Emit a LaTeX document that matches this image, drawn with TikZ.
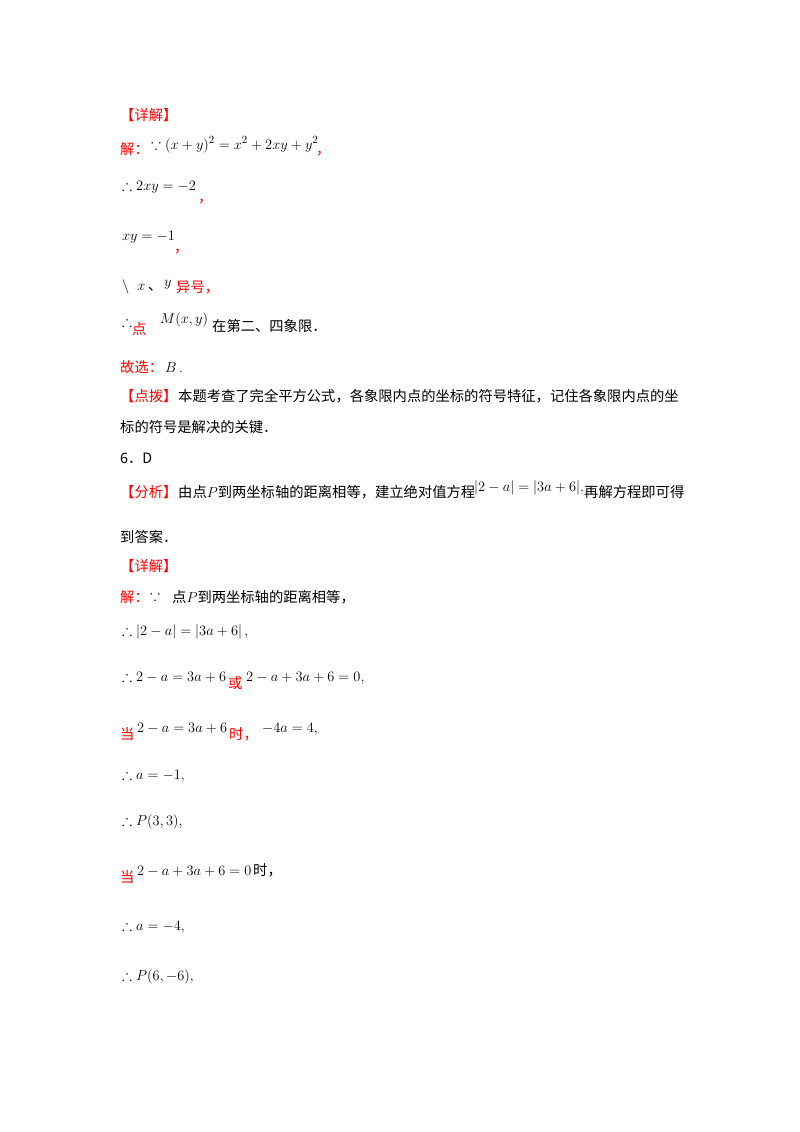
\documentclass[tikz,border=0pt]{standalone}
\usepackage{amssymb}
\usepackage{fontspec}
\newfontfamily\cjk{Noto Sans CJK SC}
\definecolor{rd}{RGB}{255,0,0}
\begin{document}
\begin{tikzpicture}[x=1pt,y=-1pt,
  t/.style={anchor=base west,inner sep=0pt,font=\cjk\fontsize{14.3}{16}\selectfont},
  r/.style={t,text=rd},
  m/.style={anchor=base west,inner sep=0pt,font=\fontsize{15}{18}\selectfont}]
\useasboundingbox (0,0) rectangle (800,1132);
\node[r] (a1) at (120,120) {【详解】};
\node[r] (a2) at (120,154) {解：};
\node[m] (a3) at (151,149) {$\because(x+y)^2=x^2+2xy+y^2$};
\node[r] (a4) at (316,154) {，};
\node[m] (b1) at (122,190) {$\therefore 2xy=-2$};
\node[r] (b2) at (198,202) {，};
\node[m] (c1) at (122,240) {$xy=-1$};
\node[r] (c2) at (174,252) {，};
\node[m] (d1) at (122,290) {$\backslash\;\; x$};
\node[t] (d2) at (148,290) {、};
\node[m] (d3) at (164,286) {$y$};
\node[r] (d4) at (176,292) {异号，};
\node[m] (e1) at (122,326) {$\therefore$};
\node[r] (e2) at (132,334) {点};
\node[m] (e3) at (160,323) {$M(x,y)$};
\node[t] (e4) at (212,331) {在第二、四象限．};
\node[r] (f1) at (120,372) {故选：};
\node[m] (f2) at (165,372) {$B$\,.};
\node[r] (g1) at (120,401) {【点拨】};
\node[t] (g2) at (178,401) {本题考查了完全平方公式，各象限内点的坐标的符号特征，记住各象限内点的坐};
\node[t] (g3) at (120,432) {标的符号是解决的关键．};
\node[t] (h1) at (120,463) {6．D};
\node[r] (i1) at (120,497) {【分析】};
\node[t] (i2) at (178,497) {由点$P$到两坐标轴的距离相等，建立绝对值方程};
\node[m] (i3) at (474,491) {$\left|2-a\right|=\left|3a+6\right|$,};
\node[t] (i4) at (584,497) {再解方程即可得};
\node[t] (j1) at (120,542) {到答案．};
\node[r] (k1) at (120,571) {【详解】};
\node[r] (l1) at (120,602) {解：};
\node[m] (l2) at (150,600) {$\because$};
\node[t] (l3) at (172,602) {点$P$到两坐标轴的距离相等，};
\node[m] (m1) at (122,635) {$\therefore\left|2-a\right|=\left|3a+6\right|,$};
\node[m] (n1) at (122,681) {$\therefore 2-a=3a+6$};
\node[r] (n2) at (228,688) {或};
\node[m] (n3) at (246,681) {$2-a+3a+6=0,$};
\node[r] (o1) at (120,739) {当};
\node[m] (o2) at (137,732) {$2-a=3a+6$};
\node[r] (o3) at (229,739) {时，};
\node[m] (o4) at (262,732) {$-4a=4,$};
\node[m] (p1) at (122,779) {$\therefore a=-1,$};
\node[m] (q1) at (122,825) {$\therefore P\big(3,3\big),$};
\node[r] (s1) at (120,882) {当};
\node[m] (s2) at (137,875) {$2-a+3a+6=0$};
\node[t] (s3) at (253,875) {时，};
\node[m] (u1) at (122,930) {$\therefore a=-4,$};
\node[m] (v1) at (122,980) {$\therefore P\big(6,-6\big),$};
\end{tikzpicture}
\end{document}
